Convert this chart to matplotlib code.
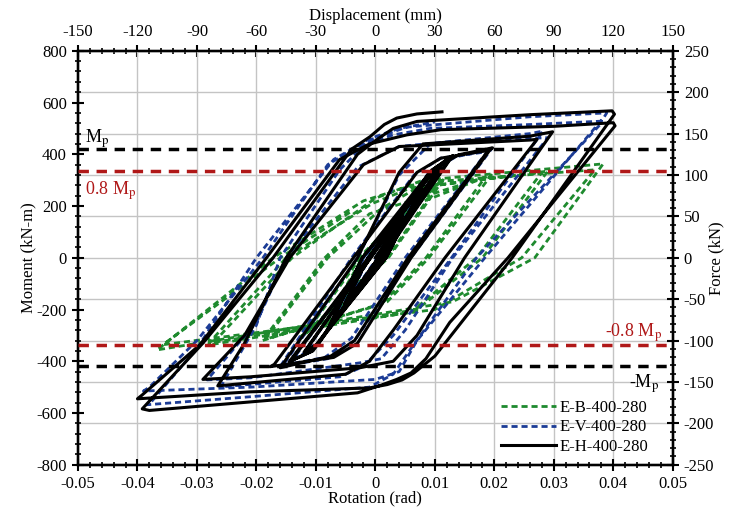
import matplotlib
matplotlib.use('Agg')
import matplotlib.pyplot as plt
from matplotlib.ticker import MultipleLocator

plt.rcParams['font.family'] = ['Liberation Serif', 'DejaVu Serif']
plt.rcParams['mathtext.fontset'] = 'stix'
plt.rcParams['axes.unicode_minus'] = False
plt.rcParams['font.size'] = 12

# E-B-400-280 (rotation in rad, moment in kN-m)
eb_rot = [0, 0.0045, 0.0008, -0.0050, -0.0010, 0.0046, 0.0008, -0.0050, -0.0010,
          0.0078, 0.0015, -0.0085, -0.0020, 0.0080, 0.0015, -0.0088, -0.0022,
          0.0110, 0.0020, -0.0120, -0.0025, 0.0115, 0.0022, -0.0125, -0.0028,
          0.0060, 0.0195, 0.0090, 0.0020, -0.0190, -0.0085, -0.0010, 0.0185, 0.0085, 0.0010, -0.0185, -0.0080,
          0.0010, 0.0070, 0.0290, 0.0180, 0.0070, -0.0280, -0.0150, -0.0005, 0.0060, 0.0280, 0.0170, 0.0060, -0.0275, -0.0140,
          0.0000, 0.0080, 0.0383, 0.0268, 0.0130, -0.0367, -0.0240, -0.0172, -0.0020, 0.0075, 0.0369, 0.0246, 0.0100,
          -0.0357, -0.0230, -0.0160, -0.0040]
eb_mom = [0, 150, 0, -160, 0, 155, 0, -160, 0,
          245, 0, -260, 0, 250, 0, -265, 0,
          300, 0, -300, 0, 305, 0, -305, 0,
          200, 320, 0, -170, -320, 0, 170, 312, 0, -180, -315, 0,
          190, 270, 335, 0, -200, -330, 0, 210, 270, 330, 0, -210, -335, 0,
          230, 300, 363, 0, -170, -356, -124, 0, 220, 290, 340, 0, -200,
          -336, -120, 0, 180]

# E-V-400-280
ev_rot = [0, 0.0042, 0.0008, -0.0048, -0.0010, 0.0044, 0.0008, -0.0050, -0.0010,
          0.0072, 0.0015, -0.0078, -0.0020, 0.0075, 0.0015, -0.0080, -0.0020,
          0.0085, 0.0108, 0.0003, -0.0092, -0.0115, -0.0010, 0.0098, 0.0125, 0.0008, -0.0102, -0.0138, -0.0012,
          0.0090, 0.0135, 0.0195, 0.0060, -0.0035, -0.0080, -0.0160, -0.0040, 0.0065, 0.0110, 0.0188, 0.0050,
          -0.0040, -0.0085, -0.0155,
          -0.0030, 0.0040, 0.0092, 0.0260, 0.0290, 0.0130, 0.0050, 0.0010, -0.0026, -0.0210, -0.0283,
          -0.0200, -0.0150, -0.0030, 0.0040, 0.0260, 0.0282, 0.0128, 0.0030, -0.0020, -0.0060, -0.0260,
          -0.0200, -0.0160, -0.0060, -0.0010, 0.0053, 0.0260, 0.0389, 0.0385, 0.0184, 0.0070, 0.0040, 0.0000,
          -0.0210, -0.0390,
          -0.0380, -0.0300, -0.0189, -0.0080, -0.0030, 0.0030, 0.0092, 0.0260, 0.0380, 0.0378, 0.0170, 0.0060,
          0.0030, -0.0010, -0.0210, -0.0384, -0.0378, -0.0300, -0.0200, -0.0070, -0.0010, 0.0040, 0.0100]
ev_mom = [0, 150, 0, -165, 0, 155, 0, -168, 0,
          250, 0, -275, 0, 258, 0, -280, 0,
          310, 350, 0, -320, -355, 0, 340, 385, 0, -350, -390, 0,
          330, 390, 420, 0, -320, -390, -420, 0, 320, 385, 410, 0,
          -310, -385, -415,
          0, 320, 440, 462, 464, 0, -280, -390, -406, -464, -472,
          -250, 0, 350, 430, 480, 490, 0, -300, -420, -460, -499,
          -260, 0, 340, 455, 505, 545, 560, 545, 0, -320, -440, -470,
          -500, -515,
          -500, -320, 0, 360, 430, 475, 500, 515, 528, 515, 0, -350,
          -450, -500, -537, -568, -560, -350, 0, 380, 460, 500, 525]

# E-H-400-280
eh_rot = [0, 0.0045, 0.0010, -0.0050, -0.0012, 0.0046, 0.0010, -0.0052, -0.0012,
          0.0075, 0.0018, -0.0080, -0.0022, 0.0078, 0.0018, -0.0083, -0.0022,
          0.0088, 0.0110, 0.0005, -0.0095, -0.0118, -0.0008, 0.0090, 0.0112, 0.0005, -0.0098, -0.0120, -0.0008,
          0.0100, 0.0128, 0.0010, -0.0105, -0.0142, -0.0010, 0.0102, 0.0130, 0.0012, -0.0108, -0.0145, -0.0012,
          0.0095, 0.0140, 0.0197, 0.0192, 0.0060, -0.0030, -0.0070, -0.0177, -0.0170, -0.0037,
          0.0070, 0.0110, 0.0190, 0.0055, -0.0035, -0.0075, -0.0160,
          -0.0030, 0.0040, 0.0080, 0.0260, 0.0298, 0.0150, 0.0070, 0.0030, -0.0026, -0.0210, -0.0290,
          -0.0220, -0.0144, -0.0020, 0.0040, 0.0260, 0.0272, 0.0117, 0.0030, -0.0010, -0.0050, -0.0265,
          -0.0220, -0.0150, -0.0030, 0.0002, 0.0030, 0.0070, 0.0260, 0.0398, 0.0402, 0.0230, 0.0100, 0.0065,
          0.0045, 0.0020, -0.0010, -0.0210, -0.0400,
          -0.0392, -0.0295, -0.0183, -0.0060, -0.0010, 0.0053, 0.0110, 0.0300, 0.0400, 0.0403, 0.0223, 0.0125,
          0.0085, 0.0060, 0.0036, 0.0010, -0.0030, -0.0210, -0.0380, -0.0392,
          -0.0290, -0.0172, -0.0040, -0.0009, 0.0015, 0.0036, 0.0070, 0.0112]
eh_mom = [0, 160, 0, -175, 0, 165, 0, -178, 0,
          262, 0, -282, 0, 268, 0, -288, 0,
          320, 358, 0, -330, -362, 0, 325, 360, 0, -335, -365, 0,
          345, 392, 0, -360, -398, 0, 350, 395, 0, -362, -402, 0,
          340, 398, 425, 415, 0, -330, -385, -421, -412, 0,
          330, 385, 415, 0, -320, -380, -425,
          0, 330, 440, 470, 487, 0, -300, -400, -425, -460, -470,
          -300, 0, 360, 430, 455, 458, 0, -280, -400, -450, -495,
          -330, 0, 400, 456, 500, 527, 553, 568, 555, 0, -380, -445,
          -472, -490, -503, -518, -545,
          -530, -336, 0, 380, 440, 475, 495, 508, 522, 510, 0, -250,
          -390, -445, -470, -492, -522, -557, -590, -584,
          -330, 0, 420, 468, 515, 540, 556, 564]

mp = 420
mp_08 = 336

fig = plt.figure(figsize=(7.5, 5.13), dpi=100)
ax = fig.add_axes([0.104, 0.094, 0.793, 0.807])
ax_top = ax.twiny()
ax_right = ax.twinx()

ax.plot(eb_rot, eb_mom, color='#1e8a2e', lw=2.0, ls=(0, (2.2, 1.4)), label='E-B-400-280', zorder=3)
ax.plot(ev_rot, ev_mom, color='#1c3c96', lw=2.0, ls=(0, (2.2, 1.4)), label='E-V-400-280', zorder=4)
ax.plot(eh_rot, eh_mom, color='black', lw=2.2, label='E-H-400-280', zorder=5)

for y, c in [(mp, 'black'), (-mp, 'black'), (mp_08, '#b01818'), (-mp_08, '#b01818')]:
    ax.axhline(y, color=c, lw=2.5, ls=(0, (3, 2.2)), zorder=6)

ax.text(-0.0488, 445, r'M$_\mathrm{p}$', color='black', fontsize=13, zorder=7)
ax.text(-0.0488, 245, r'0.8 M$_\mathrm{p}$', color='#b01818', fontsize=13, zorder=7)
ax.text(0.0483, -305, r'-0.8 M$_\mathrm{p}$', color='#b01818', fontsize=13, ha='right', zorder=7)
ax.text(0.0478, -500, r'-M$_\mathrm{p}$', color='black', fontsize=13, ha='right', zorder=7)

ax.set_xlim(-0.05, 0.05)
ax.set_ylim(-800, 800)
ax_top.set_xlim(-150, 150)
ax_right.set_ylim(-250, 250)

ax.xaxis.set_major_locator(MultipleLocator(0.01))
ax.xaxis.set_minor_locator(MultipleLocator(0.002))
ax.yaxis.set_major_locator(MultipleLocator(200))
ax.yaxis.set_minor_locator(MultipleLocator(40))
ax_top.xaxis.set_major_locator(MultipleLocator(30))
ax_top.xaxis.set_minor_locator(MultipleLocator(6))
ax_right.yaxis.set_major_locator(MultipleLocator(50))
ax_right.yaxis.set_minor_locator(MultipleLocator(10))

ax.set_xticks([-0.05, -0.04, -0.03, -0.02, -0.01, 0, 0.01, 0.02, 0.03, 0.04, 0.05])
ax.set_xticklabels(['-0.05', '-0.04', '-0.03', '-0.02', '-0.01', '0', '0.01', '0.02', '0.03', '0.04', '0.05'])

ax.grid(True, axis='x', color='#c4c4c4', lw=1.0)
ax_right.grid(True, axis='y', color='#c4c4c4', lw=1.0)
ax.set_zorder(ax_right.get_zorder() + 1)
ax.patch.set_visible(False)

for a in (ax, ax_top, ax_right):
    a.tick_params(which='major', direction='inout', length=9, width=1.5, labelsize=12)
    a.tick_params(which='minor', direction='inout', length=5, width=1.2)
    for s in a.spines.values():
        s.set_linewidth(1.6)

ax.set_xlabel('Rotation (rad)', labelpad=-1)
ax.set_ylabel('Moment (kN-m)', labelpad=0)
ax_top.set_xlabel('Displacement (mm)', labelpad=3)
ax_right.set_ylabel('Force (kN)')
ax_right.yaxis.set_label_coords(1.06, 0.5)

ax.legend(loc='lower right', bbox_to_anchor=(0.975, 0.0), frameon=False, handlelength=3.3,
          handletextpad=0.2, labelspacing=0.2, borderaxespad=0.2, fontsize=12)

fig.savefig('out.png', dpi=100)
